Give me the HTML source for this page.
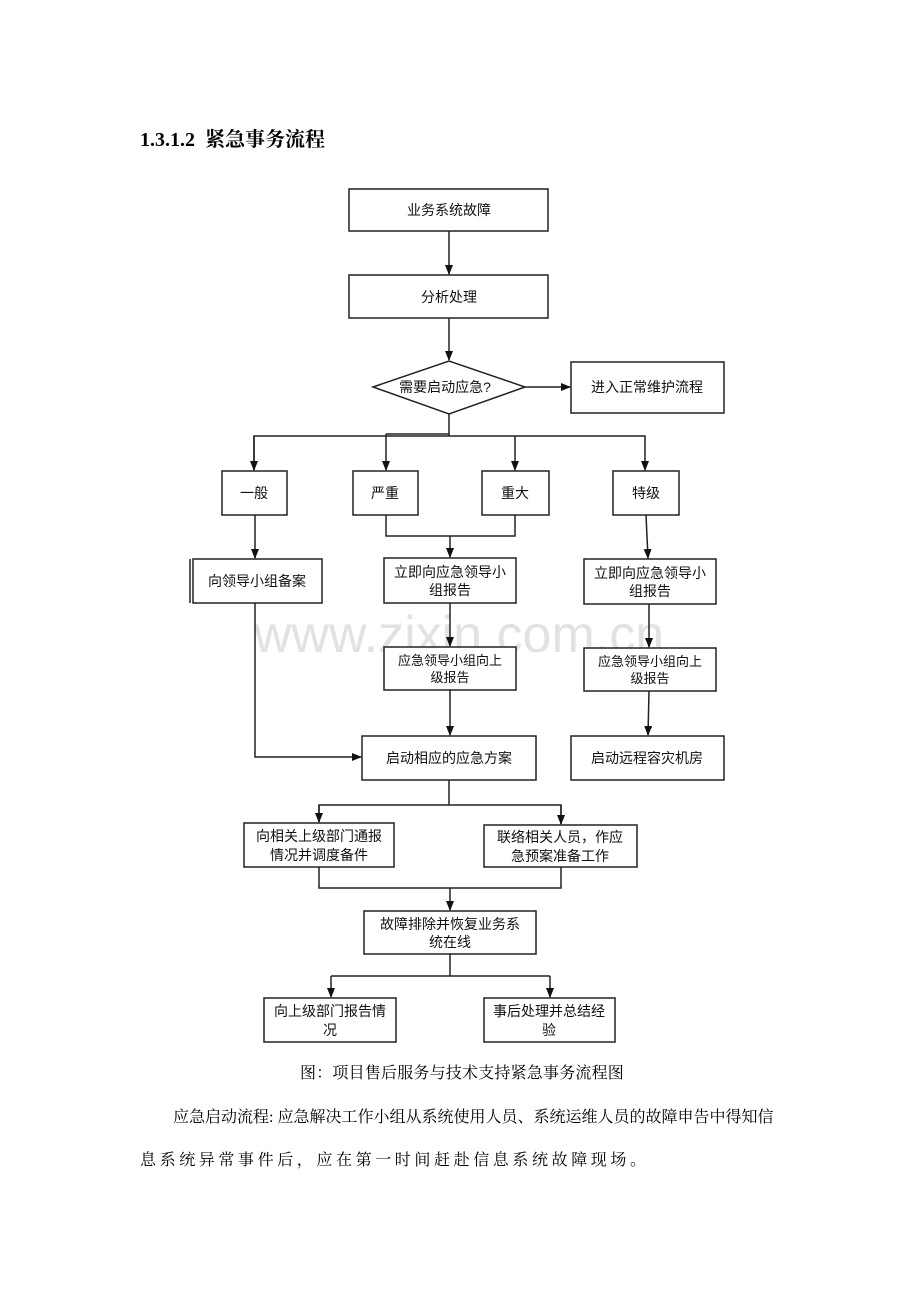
<!DOCTYPE html>
<html><head><meta charset="utf-8"><style>
html,body{margin:0;padding:0;background:#fff;}
body{width:920px;height:1302px;position:relative;overflow:hidden;font-family:"Liberation Serif","Noto Serif CJK SC","Noto Sans CJK SC",serif;}
.h{position:absolute;left:140px;top:123px;font-size:20px;font-weight:bold;color:#000;}
.p{position:absolute;font-size:16px;color:#000;white-space:nowrap;}
</style></head><body>
<div class="h">1.3.1.2&nbsp; 紧急事务流程</div>
<svg width="920" height="1302" style="position:absolute;left:0;top:0" font-family="'Liberation Sans','Noto Sans CJK SC',sans-serif">
<defs><marker id="a" markerWidth="10" markerHeight="10" refX="9" refY="5" orient="auto" markerUnits="userSpaceOnUse"><path d="M0,1 L10,5 L0,9 z" fill="#111"/></marker></defs>
<text x="459" y="652" font-size="52" fill="#e2e2e2" text-anchor="middle" font-family="'Liberation Sans',sans-serif">www.zixin.com.cn</text>
<g fill="#fff" stroke="#222" stroke-width="1.5">
<rect x="349" y="189" width="199" height="42"/>
<rect x="349" y="275" width="199" height="43"/>
<polygon points="373,387 449,361 525,387 449,414"/>
<rect x="571" y="362" width="153" height="51"/>
<rect x="222" y="471" width="65" height="44"/>
<rect x="353" y="471" width="65" height="44"/>
<rect x="482" y="471" width="67" height="44"/>
<rect x="613" y="471" width="66" height="44"/>
<rect x="193" y="559" width="129" height="44"/>
<rect x="384" y="558" width="132" height="45"/>
<rect x="584" y="559" width="132" height="45"/>
<rect x="384" y="647" width="132" height="43"/>
<rect x="584" y="648" width="132" height="43"/>
<rect x="362" y="736" width="174" height="44"/>
<rect x="571" y="736" width="153" height="44"/>
<rect x="244" y="823" width="150" height="44"/>
<rect x="484" y="825" width="153" height="42"/>
<rect x="364" y="911" width="172" height="43"/>
<rect x="264" y="998" width="132" height="44"/>
<rect x="484" y="998" width="131" height="44"/>
</g>
<g fill="none" stroke="#222" stroke-width="1.5">
<line x1="190" y1="559" x2="190" y2="603"/>
<line x1="449" y1="231" x2="449" y2="274" marker-end="url(#a)"/>
<line x1="449" y1="318" x2="449" y2="360" marker-end="url(#a)"/>
<line x1="525" y1="387" x2="570" y2="387" marker-end="url(#a)"/>
<polyline points="449,414 449,436"/>
<polyline points="254,470 254,436 645,436 645,470" marker-end="url(#a)"/>
<line x1="254" y1="436" x2="254" y2="470" marker-end="url(#a)"/>
<line x1="386" y1="434" x2="386" y2="470" marker-end="url(#a)"/>
<line x1="386" y1="434" x2="449" y2="434"/>
<line x1="515" y1="436" x2="515" y2="470" marker-end="url(#a)"/>
<polyline points="386,515 386,536 515,536 515,515"/>
<line x1="450" y1="536" x2="450" y2="557" marker-end="url(#a)"/>
<line x1="255" y1="515" x2="255" y2="558" marker-end="url(#a)"/>
<line x1="646" y1="515" x2="648" y2="558" marker-end="url(#a)"/>
<line x1="450" y1="603" x2="450" y2="646" marker-end="url(#a)"/>
<line x1="649" y1="604" x2="649" y2="647" marker-end="url(#a)"/>
<line x1="450" y1="690" x2="450" y2="735" marker-end="url(#a)"/>
<line x1="649" y1="691" x2="648" y2="735" marker-end="url(#a)"/>
<polyline points="255,603 255,757 361,757" marker-end="url(#a)"/>
<polyline points="449,780 449,805"/>
<polyline points="319,822 319,805 561,805 561,824"/>
<line x1="319" y1="805" x2="319" y2="822" marker-end="url(#a)"/>
<line x1="561" y1="805" x2="561" y2="824" marker-end="url(#a)"/>
<polyline points="319,867 319,888 561,888 561,867"/>
<line x1="450" y1="888" x2="450" y2="910" marker-end="url(#a)"/>
<polyline points="450,954 450,976"/>
<polyline points="331,976 550,976"/>
<line x1="331" y1="976" x2="331" y2="997" marker-end="url(#a)"/>
<line x1="550" y1="976" x2="550" y2="997" marker-end="url(#a)"/>
</g>
<g font-size="14" fill="#111" text-anchor="middle">
<text x="449" y="215">业务系统故障</text>
<text x="449" y="302">分析处理</text>
<text x="445" y="392">需要启动应急?</text>
<text x="647" y="392">进入正常维护流程</text>
<text x="254" y="498">一般</text>
<text x="385" y="498">严重</text>
<text x="515" y="498">重大</text>
<text x="646" y="498">特级</text>
<text x="257" y="586">向领导小组备案</text>
<text x="450" y="577">立即向应急领导小</text>
<text x="450" y="595">组报告</text>
<text x="650" y="578">立即向应急领导小</text>
<text x="650" y="596">组报告</text>
<text x="450" y="665" font-size="13">应急领导小组向上</text>
<text x="450" y="682" font-size="13">级报告</text>
<text x="650" y="666" font-size="13">应急领导小组向上</text>
<text x="650" y="683" font-size="13">级报告</text>
<text x="449" y="763">启动相应的应急方案</text>
<text x="647" y="763">启动远程容灾机房</text>
<text x="319" y="841">向相关上级部门通报</text>
<text x="319" y="860">情况并调度备件</text>
<text x="560" y="842">联络相关人员，作应</text>
<text x="560" y="861">急预案准备工作</text>
<text x="450" y="929">故障排除并恢复业务系</text>
<text x="450" y="947">统在线</text>
<text x="330" y="1016">向上级部门报告情</text>
<text x="330" y="1035">况</text>
<text x="549" y="1016">事后处理并总结经</text>
<text x="549" y="1035">验</text>
</g>
</svg>
<div class="p" style="left:300px;top:1060px;letter-spacing:0.2px">图：项目售后服务与技术支持紧急事务流程图</div>
<div class="p" style="left:173px;top:1104px">应急启动流程: 应急解决工作小组从系统使用人员、系统运维人员的故障申告中得知信</div>
<div class="p" style="left:140px;top:1147px;letter-spacing:3.6px">息系统异常事件后，应在第一时间赶赴信息系统故障现场。</div>
</body></html>
